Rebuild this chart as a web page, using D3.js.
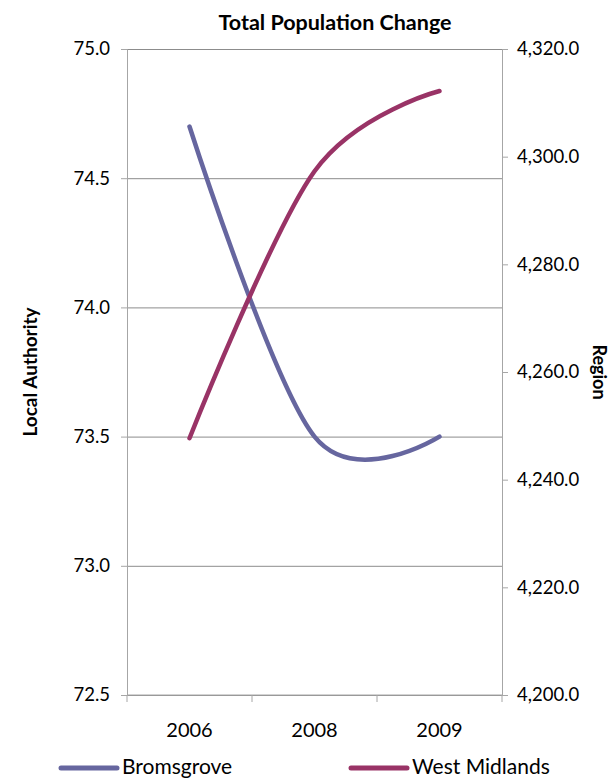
<!DOCTYPE html>
<html>
<head>
<meta charset="utf-8">
<script src="https://cdn.jsdelivr.net/npm/d3@7"></script>
<style>
  body { margin: 0; background: #fff; }
  svg text { font-family: Lato, "Open Sans", sans-serif; fill: #000; }
</style>
</head>
<body>
<div id="chart"></div>
<script>
// categories and series
const years = ["2006", "2008", "2009"];
const bromsgrove = [74.7, 73.5, 73.5];
const westMidlands = [4247.7, 4297.3, 4312.2];
const leftTicks = [72.5, 73.0, 73.5, 74.0, 74.5, 75.0];
const rightTicks = [4200, 4220, 4240, 4260, 4280, 4300, 4320];

const W = 610, H = 780;
const plot = { left: 127, right: 502, top: 49, bottom: 695 };
const midY = (plot.top + plot.bottom) / 2;

const svg = d3.select('#chart').append('svg')
    .attr('width', W)
    .attr('height', H);

// scales
const x = d3.scaleBand().domain(years).range([plot.left, plot.right]);
const yL = d3.scaleLinear().domain([72.5, 75.0]).range([plot.bottom, plot.top]);
const yR = d3.scaleLinear().domain([4200, 4320]).range([plot.bottom, plot.top]);
const cx = d => x(d) + x.bandwidth() / 2;

// horizontal gridlines (left axis)
svg.append('g')
    .attr('transform', `translate(${plot.left},0)`)
    .call(d3.axisLeft(yL).tickValues(leftTicks).tickSize(-(plot.right - plot.left)).tickFormat(''))
    .call(g => g.select('.domain').remove())
    .call(g => g.selectAll('line').attr('stroke', '#8c8c8c'));

// left axis
svg.append('g')
    .attr('transform', `translate(${plot.left},0)`)
    .call(d3.axisLeft(yL).tickValues(leftTicks).tickFormat(d3.format('.1f')).tickSize(6).tickPadding(11))
    .call(g => g.select('.domain').attr('stroke', '#a6a6a6'))
    .call(g => g.selectAll('line').attr('stroke', '#a6a6a6'))
    .call(g => g.selectAll('text').style('font-size', '18.5px'));

// right axis
svg.append('g')
    .attr('transform', `translate(${plot.right},0)`)
    .call(d3.axisRight(yR).tickValues(rightTicks).tickFormat(d3.format(',.1f')).tickSize(6).tickPadding(9))
    .call(g => g.select('.domain').attr('stroke', '#a6a6a6'))
    .call(g => g.selectAll('line').attr('stroke', '#a6a6a6'))
    .call(g => g.selectAll('text').style('font-size', '18.5px'));

// bottom axis: line + ticks on category boundaries
const bounds = years.map(d => x(d)).concat([plot.right]);
svg.append('line')
    .attr('x1', plot.left).attr('x2', plot.right)
    .attr('y1', plot.bottom).attr('y2', plot.bottom)
    .attr('stroke', '#a6a6a6');
svg.selectAll('.xtick').data(bounds).enter().append('line')
    .attr('class', 'xtick')
    .attr('x1', d => d).attr('x2', d => d)
    .attr('y1', plot.bottom).attr('y2', plot.bottom + 7)
    .attr('stroke', '#a6a6a6');
svg.selectAll('.xlabel').data(years).enter().append('text')
    .attr('class', 'xlabel')
    .attr('x', d => cx(d))
    .attr('y', 737)
    .attr('text-anchor', 'middle')
    .style('font-size', '20px')
    .text(d => d);

// series lines
const series = [
    { name: 'Bromsgrove', values: bromsgrove, y: yL, color: '#66669f' },
    { name: 'West Midlands', values: westMidlands, y: yR, color: '#993366' }
];

series.forEach(s => {
    const line = d3.line()
        .x((d, i) => cx(years[i]))
        .y(d => s.y(d))
        .curve(d3.curveCardinal.tension(0));
    svg.append('path')
        .datum(s.values)
        .attr('d', line)
        .attr('fill', 'none')
        .attr('stroke', s.color)
        .attr('stroke-width', 4.5)
        .attr('stroke-linecap', 'round');
});

// title
svg.append('text')
    .attr('x', 335).attr('y', 30)
    .attr('text-anchor', 'middle')
    .style('font-size', '21.5px').style('font-weight', 'bold')
    .text('Total Population Change');

// axis titles, centred on the plot area
svg.append('text')
    .attr('transform', `translate(37,${midY}) rotate(-90)`)
    .attr('text-anchor', 'middle')
    .style('font-size', '19px').style('font-weight', 'bold')
    .text('Local Authority');
svg.append('text')
    .attr('transform', `translate(593,${midY}) rotate(90)`)
    .attr('text-anchor', 'middle')
    .style('font-size', '18px').style('font-weight', 'bold')
    .text('Region');

// legend (kept just inside the bottom edge)
const legendX = [61, 351];
const lg = svg.selectAll('.legend').data(series).enter().append('g')
    .attr('class', 'legend')
    .attr('transform', (d, i) => `translate(${legendX[i]},768)`);
lg.append('line')
    .attr('x1', 0).attr('x2', 56)
    .attr('stroke', d => d.color)
    .attr('stroke-width', 5)
    .attr('stroke-linecap', 'round');
lg.append('text')
    .attr('x', 61).attr('y', 6)
    .style('font-size', '21px')
    .text(d => d.name);
</script>
</body>
</html>
